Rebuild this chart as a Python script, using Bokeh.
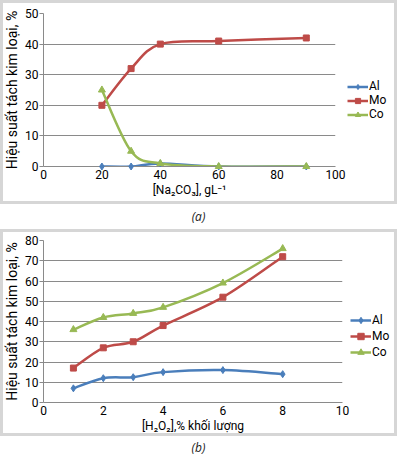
from bokeh.plotting import figure
from bokeh.models import Range1d, Legend, LegendItem, Div, FixedTicker, ColumnDataSource
from bokeh.layouts import column, row
from bokeh.embed import file_html
from bokeh.resources import INLINE

# ---- Data (a) ----
na_x = [20, 30, 40, 60, 90]
a_al = [0, 0, 1, 0, 0]
a_mo = [20, 32, 40, 41, 42]
a_co = [25, 5, 1, 0, 0]
a_xticks = [0, 20, 40, 60, 80, 100]
a_yticks = [0, 10, 20, 30, 40, 50]

# ---- Data (b) ----
h_x = [1, 2, 3, 4, 6, 8]
b_al = [7, 12, 12.5, 15, 16, 14]
b_mo = [17, 27, 30, 38, 52, 72]
b_co = [36, 42, 44, 47, 59, 76]
b_xticks = [0, 2, 4, 6, 8, 10]
b_yticks = [0, 10, 20, 30, 40, 50, 60, 70, 80]

names = ["Al", "Mo", "Co"]
colors = ["#4A7EBB", "#BE4B48", "#98B954"]
markers = ["diamond", "square", "triangle"]
msizes = [7, 6, 7]

FONT = "Roboto"
BOX = {"background-color": "white", "box-shadow": "inset 0 0 0 3px #d6d6d6"}
TOTAL_W = 397


def smooth(xs, ys):
    n = len(xs)
    d = dict(x0=[], y0=[], x1=[], y1=[], cx0=[], cy0=[], cx1=[], cy1=[])
    for i in range(n - 1):
        p0 = (xs[i - 1], ys[i - 1]) if i > 0 else (xs[i], ys[i])
        p1 = (xs[i], ys[i])
        p2 = (xs[i + 1], ys[i + 1])
        p3 = (xs[i + 2], ys[i + 2]) if i + 2 < n else p2
        d["x0"].append(p1[0]); d["y0"].append(p1[1])
        d["x1"].append(p2[0]); d["y1"].append(p2[1])
        d["cx0"].append(p1[0] + (p2[0] - p0[0]) / 6)
        d["cy0"].append(p1[1] + (p2[1] - p0[1]) / 6)
        d["cx1"].append(p2[0] - (p3[0] - p1[0]) / 6)
        d["cy1"].append(p2[1] - (p3[1] - p1[1]) / 6)
    return ColumnDataSource(d)


def make_panel(xs, series, xr, yr, xticks, yticks, xlabel, h, w, borders,
               leg_y, leg_h):
    bl, br, bt, bb = borders
    p = figure(width=w, height=h, output_backend="svg", toolbar_location=None,
               x_range=Range1d(*xr), y_range=Range1d(*yr),
               min_border_left=bl, min_border_right=br, min_border_top=bt,
               min_border_bottom=bb)
    p.border_fill_color = None
    p.background_fill_color = None
    p.outline_line_color = None
    p.xgrid.grid_line_color = None
    p.ygrid.grid_line_color = "#8a8a8a"
    p.ygrid.grid_line_width = 1
    p.xaxis.ticker = FixedTicker(ticks=xticks)
    p.yaxis.ticker = FixedTicker(ticks=yticks)
    for ax in (p.xaxis[0], p.yaxis[0]):
        ax.axis_line_color = "#8a8a8a"
        ax.major_tick_line_color = "#8a8a8a"
        ax.minor_tick_line_color = None
        ax.major_tick_in = 0
        ax.major_label_text_font = FONT
        ax.major_label_text_font_size = "12px"
        ax.major_label_text_color = "#000000"
        ax.axis_label_text_font = FONT
        ax.axis_label_text_font_style = "normal"
        ax.axis_label_text_color = "#000000"
    p.xaxis.axis_label_text_font_size = "12px"
    p.yaxis.axis_label_text_font_size = "14px"
    p.xaxis.major_tick_out = 0
    p.xaxis.major_label_standoff = 3
    p.xaxis.axis_label_standoff = 1
    p.yaxis.major_tick_out = 4
    p.yaxis.major_label_standoff = 1
    p.yaxis.axis_label_standoff = 2
    p.xaxis.axis_label = xlabel
    p.yaxis.axis_label = "Hiệu suất tách kim loại, %"

    for ys, c, m, s in zip(series, colors, markers, msizes):
        src = smooth(xs, ys)
        p.bezier(x0="x0", y0="y0", x1="x1", y1="y1", cx0="cx0", cy0="cy0",
                 cx1="cx1", cy1="cy1", source=src, line_color=c, line_width=2.5)
        r2 = p.scatter(xs, ys, marker=m, size=s, fill_color=c, line_color=c)
        r2.level = "overlay"

    # legend in a small companion figure (series drawn off-range, only the key shows)
    q = figure(width=TOTAL_W - w, height=h, output_backend="svg", toolbar_location=None,
               x_range=Range1d(-3, -2), y_range=Range1d(-3, -2),
               x_axis_location=None, y_axis_location=None,
               min_border_left=0, min_border_right=0, min_border_top=bt,
               min_border_bottom=bb)
    q.border_fill_color = None
    q.background_fill_color = None
    q.outline_line_color = None
    q.grid.visible = False
    items = []
    for name, ys, c, m, s in zip(names, series, colors, markers, msizes):
        l1 = q.line(xs, ys, line_color=c, line_width=2.5)
        l2 = q.scatter(xs, ys, marker=m, size=s, fill_color=c, line_color=c)
        items.append(LegendItem(label=name, renderers=[l1, l2]))
    leg = Legend(items=items, location=(0, leg_y), padding=0, margin=0,
                 spacing=0, background_fill_alpha=0, border_line_color=None,
                 glyph_width=21, glyph_height=leg_h, label_height=leg_h,
                 label_standoff=1, label_text_font=FONT, label_text_font_size="12px",
                 label_text_color="#000000")
    q.add_layout(leg, "center")
    return row(p, q, spacing=0, styles=BOX)


pa = make_panel(na_x, [a_al, a_mo, a_co], (0, 100), (0, 50), a_xticks, a_yticks,
                "[Na₂CO₃], gL⁻¹", 204, 347, (43, 12, 13, 38), 45, 13)
pb = make_panel(h_x, [b_al, b_mo, b_co], (0, 10), (0, 80), b_xticks, b_yticks,
                "[H₂O₂],% khối lượng", 207, 350, (43, 8, 11, 34), 42, 16)

cap_style = {"font-family": "Open Sans", "font-size": "12px", "font-style": "italic",
             "text-align": "center", "color": "#222222"}
cap_a = Div(text="(a)", width=TOTAL_W, height=25, margin=0,
            styles=dict(cap_style, **{"line-height": "25px"}))
cap_b = Div(text="(b)", width=TOTAL_W, height=23, margin=0,
            styles=dict(cap_style, **{"line-height": "23px"}))

layout = column(pa, cap_a, pb, cap_b, spacing=0)

open("out.html", "w").write(file_html(layout, INLINE))
